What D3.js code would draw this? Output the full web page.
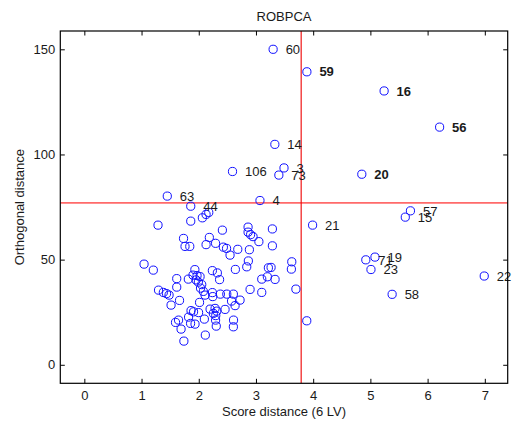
<!DOCTYPE html>
<html>
<head>
<meta charset="utf-8">
<script src="https://cdn.jsdelivr.net/npm/d3@7"></script>
<style>
  html, body { margin: 0; padding: 0; background: #fff; }
  svg { display: block; font-family: "Liberation Sans", Arial, Helvetica, sans-serif; }
</style>
</head>
<body>
<svg id="chart" width="518" height="425"></svg>
<script>
// Robust PCA outlier map: score distance vs orthogonal distance.

// Observations that carry a case-number label
const labelIds   = ["60", "59", "16", "56", "14", "106", "3", "73", "4", "20", "21", "57", "15", "71", "19", "23", "22", "58", "63", "44"];
const labelSD    = [3.30, 3.89, 5.24, 6.21, 3.33, 2.59, 3.49, 3.40, 3.07, 4.85, 3.99, 5.70, 5.61, 4.92, 5.08, 5.01, 6.99, 5.38, 1.45, 1.86];
const labelOD    = [150.0, 139.3, 130.2, 113.0, 104.8, 91.9, 93.6, 90.2, 78.1, 90.6, 66.4, 73.2, 70.2, 49.9, 51.2, 45.3, 42.2, 33.5, 80.2, 75.4];
const boldIds    = ["59", "16", "56", "20"];

// Remaining (unlabelled) observations
const regularSD = [2.063,2.128,2.175,1.288,1.860,2.413,1.734,1.760,1.843,2.185,2.128,2.294,2.430,2.486,2.547,2.682,
  2.862,2.862,2.906,2.949,3.051,2.885,2.867,2.839,2.640,2.238,2.325,2.364,1.932,1.900,1.970,2.023,1.953,1.993,2.052,
  2.031,2.080,1.615,1.818,1.206,1.044,3.287,3.287,3.217,3.264,3.626,3.619,3.334,3.101,3.199,2.897,3.101,3.698,1.297,
  1.381,1.437,1.481,1.615,1.516,1.664,2.014,2.110,2.238,2.245,2.378,2.490,2.605,2.573,2.722,2.635,1.865,1.909,1.997,
  2.198,2.285,2.315,2.255,2.297,2.460,1.822,1.647,1.594,1.691,1.857,1.935,2.098,2.294,2.306,2.608,2.605,2.115,1.740,3.888];
const regularOD = [69.87,71.49,72.44,66.40,68.30,64.02,60.08,56.28,56.28,60.55,57.13,57.75,55.94,55.33,52.14,54.90,
  65.45,63.07,61.88,60.93,58.56,54.71,49.38,46.58,45.34,44.77,43.68,40.50,45.25,42.63,42.40,41.92,40.35,39.31,38.12,
  36.46,34.89,40.97,40.73,45.01,47.86,64.59,56.56,46.10,46.29,48.96,45.49,40.59,40.73,41.83,35.84,34.41,35.98,35.50,
  34.41,33.84,33.13,36.93,28.38,30.61,29.66,33.13,34.32,32.42,33.60,33.60,33.60,30.28,30.75,28.14,25.76,25.19,24.81,
  26.47,26.81,25.52,24.43,23.38,26.33,22.67,21.25,20.15,16.97,19.68,19.34,21.72,21.25,18.39,21.25,18.06,14.12,11.26,20.91];

// Cutoff values
const sdCutoff = 3.79;
const odCutoff = 77.0;

// Axis ticks and text
const xTicks = [0, 1, 2, 3, 4, 5, 6, 7];
const yTicks = [0, 50, 100, 150];
const titleText = "ROBPCA";
const xLabelText = "Score distance (6 LV)";
const yLabelText = "Orthogonal distance";

const svg = d3.select("#chart");
const plot = { left: 60.3, right: 507.7, top: 31, bottom: 383.3 };

const x = d3.scaleLinear().domain([-0.42, 7.40]).range([plot.left, plot.right]);
const y = d3.scaleLinear().domain([-8.8, 158.7]).range([plot.bottom, plot.top]);

const fontSize = 13;
const tickLen = 4.5;

// Cutoff lines
svg.append("line")
  .attr("x1", plot.left).attr("x2", plot.right)
  .attr("y1", y(odCutoff)).attr("y2", y(odCutoff))
  .attr("stroke", "#ff6a6a").attr("stroke-width", 1.6);
svg.append("line")
  .attr("x1", x(sdCutoff)).attr("x2", x(sdCutoff))
  .attr("y1", plot.top).attr("y2", plot.bottom)
  .attr("stroke", "#ee0000").attr("stroke-width", 1.1);

// Points
const points = regularSD.map((v, i) => ({ sd: v, od: regularOD[i] }))
  .concat(labelSD.map((v, i) => ({ sd: v, od: labelOD[i], id: labelIds[i] })));

svg.append("g").selectAll("circle")
  .data(points).join("circle")
  .attr("cx", d => x(d.sd))
  .attr("cy", d => y(d.od))
  .attr("r", 4.1)
  .attr("fill", "none")
  .attr("stroke", "#1010ff")
  .attr("stroke-width", 1);

// Case labels
svg.append("g").selectAll("text")
  .data(points.filter(d => d.id)).join("text")
  .attr("x", d => x(d.sd) + 12.5)
  .attr("y", d => y(d.od))
  .attr("dy", "0.36em")
  .attr("font-size", fontSize)
  .attr("font-weight", d => boldIds.includes(d.id) ? "bold" : "normal")
  .attr("fill", "#1a1a1a")
  .text(d => d.id);

// Axes with inward ticks
const fmt = d3.format("d");
const gx = svg.append("g").attr("transform", `translate(0,${plot.bottom})`)
  .call(d3.axisBottom(x).tickValues(xTicks).tickFormat(fmt).tickSizeInner(-tickLen).tickSizeOuter(0).tickPadding(7));
const gxTop = svg.append("g").attr("transform", `translate(0,${plot.top})`)
  .call(d3.axisTop(x).tickValues(xTicks).tickFormat("").tickSizeInner(-tickLen).tickSizeOuter(0));
const gy = svg.append("g").attr("transform", `translate(${plot.left},0)`)
  .call(d3.axisLeft(y).tickValues(yTicks).tickFormat(fmt).tickSizeInner(-tickLen).tickSizeOuter(0).tickPadding(5));
const gyRight = svg.append("g").attr("transform", `translate(${plot.right},0)`)
  .call(d3.axisRight(y).tickValues(yTicks).tickFormat("").tickSizeInner(-tickLen).tickSizeOuter(0));

[gx, gxTop, gy, gyRight].forEach(g => {
  g.select(".domain").remove();
  g.selectAll(".tick line").attr("stroke", "#000");
  g.selectAll(".tick text").attr("font-size", fontSize).attr("fill", "#1a1a1a")
    .attr("font-family", "Liberation Sans, Arial, sans-serif");
});

// Axes box
svg.append("rect")
  .attr("x", plot.left).attr("y", plot.top)
  .attr("width", plot.right - plot.left).attr("height", plot.bottom - plot.top)
  .attr("fill", "none").attr("stroke", "#000").attr("stroke-width", 1.2);

// Title and axis labels
svg.append("text")
  .attr("x", (plot.left + plot.right) / 2).attr("y", 20.5)
  .attr("text-anchor", "middle").attr("font-size", fontSize).attr("fill", "#1a1a1a")
  .text(titleText);
svg.append("text")
  .attr("x", (plot.left + plot.right) / 2).attr("y", 416)
  .attr("text-anchor", "middle").attr("font-size", fontSize).attr("fill", "#1a1a1a")
  .text(xLabelText);
svg.append("text")
  .attr("transform", `translate(24,${(plot.top + plot.bottom) / 2}) rotate(-90)`)
  .attr("text-anchor", "middle").attr("font-size", fontSize).attr("fill", "#1a1a1a")
  .text(yLabelText);
</script>
</body>
</html>
